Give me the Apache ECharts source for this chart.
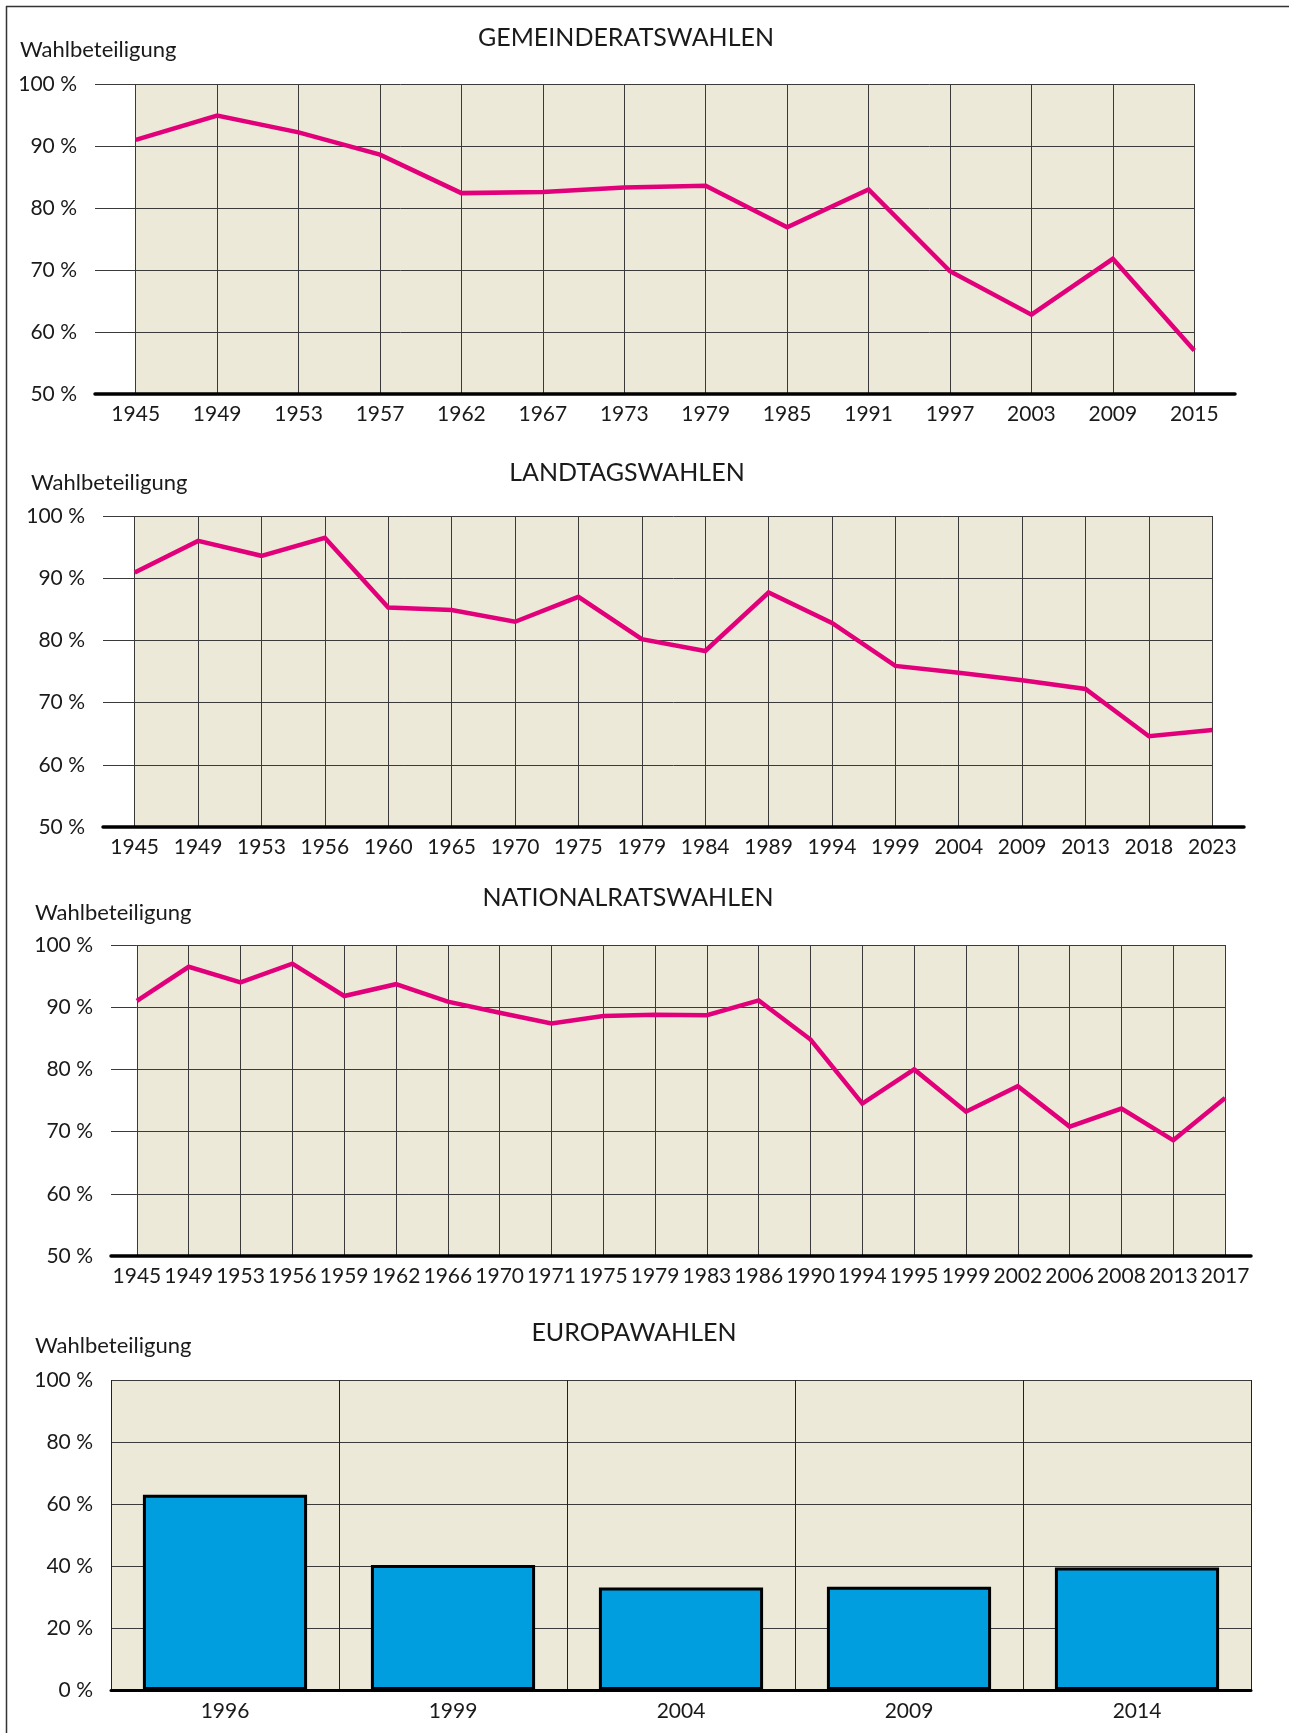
<!DOCTYPE html>
<html>
<head>
<meta charset="utf-8" />
<title>Wahlbeteiligung</title>
<style type="text/css">
html,body{margin:0;padding:0;background:#fff}
#chart{width:1289px;height:1733px}
</style>
<script src="https://cdn.jsdelivr.net/npm/echarts@6/dist/echarts.min.js"></script>
</head>
<body>
<div id="chart"></div>
<script type="text/javascript">
// Daten
var gemeinderatYears = ['1945','1949','1953','1957','1962','1967','1973','1979','1985','1991','1997','2003','2009','2015'];
var gemeinderatValues = [91.0, 94.9, 92.2, 88.6, 82.4, 82.6, 83.3, 83.6, 76.9, 83.0, 69.8, 62.8, 71.8, 57.0];

var landtagYears = ['1945','1949','1953','1956','1960','1965','1970','1975','1979','1984','1989','1994','1999','2004','2009','2013','2018','2023'];
var landtagValues = [90.9, 96.0, 93.6, 96.5, 85.3, 84.9, 83.0, 87.0, 80.2, 78.3, 87.7, 82.8, 75.9, 74.8, 73.6, 72.2, 64.6, 65.6];

var nationalratYears = ['1945','1949','1953','1956','1959','1962','1966','1970','1971','1975','1979','1983','1986','1990','1994','1995','1999','2002','2006','2008','2013','2017'];
var nationalratValues = [91.0, 96.5, 94.0, 97.0, 91.8, 93.7, 90.9, 89.1, 87.4, 88.6, 88.8, 88.7, 91.1, 84.8, 74.5, 80.0, 73.2, 77.3, 70.8, 73.7, 68.6, 75.4];

var europaYears = ['1996','1999','2004','2009','2014'];
var europaValues = [63.0, 40.3, 33.1, 33.3, 39.5];

var yLabel = 'Wahlbeteiligung';

// Layout
var FONT = 'Lato';
var TEXT = '#1a1a1a';
var BEIGE = '#ECE9D8';
var GRIDLINE = '#3a3a3a';
var PINK = '#E2007A';

var linePanels = [
	{title:'GEMEINDERATSWAHLEN', years:gemeinderatYears, values:gemeinderatValues,
	 left:95, right:1235, top:84, bottom:394, titleX:626, titleY:38, labelX:20, labelY:50},
	{title:'LANDTAGSWAHLEN', years:landtagYears, values:landtagValues,
	 left:103, right:1244, top:516, bottom:827, titleX:627, titleY:473, labelX:31, labelY:483},
	{title:'NATIONALRATSWAHLEN', years:nationalratYears, values:nationalratValues,
	 left:111, right:1251, top:945, bottom:1256, titleX:628, titleY:898, labelX:35, labelY:913}
];
var barPanel = {title:'EUROPAWAHLEN', years:europaYears, values:europaValues,
	 left:111, right:1251, top:1380, bottom:1690, titleX:634, titleY:1333, labelX:35, labelY:1346};

var grids = [], xAxes = [], yAxes = [], series = [], graphics = [];

function addTexts(p){
	graphics.push({type:'text', x:p.titleX, y:p.titleY, style:{text:p.title, fill:TEXT,
		font:'25px ' + FONT, textAlign:'center', textVerticalAlign:'middle'}});
	graphics.push({type:'text', x:p.labelX, y:p.labelY, style:{text:yLabel, fill:TEXT,
		font:'22px ' + FONT, textAlign:'left', textVerticalAlign:'middle'}});
}

linePanels.forEach(function(p){
	var w = p.right - p.left, h = p.bottom - p.top;
	var band = w / p.years.length;
	var gA = grids.length;
	// Achsen-Raster (Beschriftung + schwarze Grundlinie)
	grids.push({left:p.left, top:p.top, width:w, height:h, show:false});
	// Hintergrund + Gitter von erstem bis letztem Jahr
	grids.push({left:p.left + band/2, top:p.top, width:w - band, height:h, show:true,
		backgroundColor:BEIGE, borderWidth:0});
	xAxes.push({gridIndex:gA, type:'category', data:p.years, boundaryGap:true, z:5,
		axisLine:{lineStyle:{color:'#000', width:3.5}},
		axisTick:{show:false},
		axisLabel:{interval:0, margin:10, color:TEXT, fontFamily:FONT, fontSize:21},
		splitLine:{show:false}});
	xAxes.push({gridIndex:gA+1, type:'category', data:p.years, boundaryGap:false,
		axisLine:{show:false}, axisTick:{show:false}, axisLabel:{show:false},
		splitLine:{show:true, lineStyle:{color:GRIDLINE, width:1}}});
	yAxes.push({gridIndex:gA, type:'value', min:50, max:100, interval:10,
		axisLine:{show:false}, axisTick:{show:false}, splitLine:{show:false},
		axisLabel:{margin:18, color:TEXT, fontFamily:FONT, fontSize:21, padding:[9,0,0,0], formatter:'{value} %'}});
	yAxes.push({gridIndex:gA+1, type:'value', min:50, max:100, interval:10,
		axisLine:{show:false}, axisLabel:{show:false},
		axisTick:{show:true, length:band/2, lineStyle:{color:GRIDLINE, width:1}},
		splitLine:{show:true, lineStyle:{color:GRIDLINE, width:1}}});
	series.push({type:'line', xAxisIndex:gA, yAxisIndex:gA, data:p.values, z:10,
		symbol:'none', lineStyle:{color:PINK, width:4.5, join:'miter'}, silent:true});
	addTexts(p);
});

// Europawahlen (Balken)
(function(p){
	var gi = grids.length;
	grids.push({left:p.left, top:p.top, width:p.right - p.left, height:p.bottom - p.top, show:true,
		backgroundColor:BEIGE, borderWidth:0});
	xAxes.push({gridIndex:gi, type:'category', data:p.years, boundaryGap:true, z:5,
		axisLine:{lineStyle:{color:'#000', width:3}},
		axisTick:{show:false},
		axisLabel:{interval:0, margin:11, color:TEXT, fontFamily:FONT, fontSize:21},
		splitLine:{show:true, lineStyle:{color:'#222', width:1}}});
	yAxes.push({gridIndex:gi, type:'value', min:0, max:100, interval:20,
		axisLine:{show:false}, axisTick:{show:false},
		axisLabel:{margin:18, color:TEXT, fontFamily:FONT, fontSize:21, padding:[9,0,0,0], formatter:'{value} %'},
		splitLine:{show:true, lineStyle:{color:GRIDLINE, width:1}}});
	series.push({type:'bar', xAxisIndex:gi, yAxisIndex:gi, data:p.values, barWidth:'72%', z:10,
		itemStyle:{color:'#009DDF', borderColor:'#000', borderWidth:3}, silent:true});
	addTexts(p);
})(barPanel);

// Rahmen oben und links
graphics.push({type:'line', shape:{x1:6, y1:6.5, x2:1289, y2:6.5}, style:{stroke:'#333', lineWidth:1.5}});
graphics.push({type:'line', shape:{x1:6.5, y1:6, x2:6.5, y2:1733}, style:{stroke:'#333', lineWidth:1.5}});

var option = {
	animation:false,
	backgroundColor:'#fff',
	textStyle:{fontFamily:FONT},
	grid:grids,
	xAxis:xAxes,
	yAxis:yAxes,
	series:series,
	graphic:graphics
};
echarts.init(document.getElementById('chart'), null, {renderer:'canvas'}).setOption(option);
</script>
</body>
</html>
